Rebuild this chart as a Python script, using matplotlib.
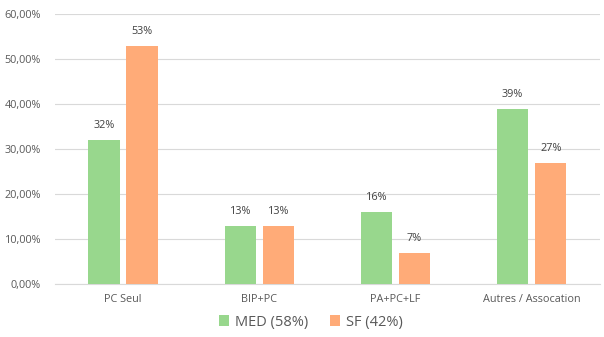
import matplotlib.pyplot as plt
import numpy as np

categories = ["PC Seul", "BIP+PC", "PA+PC+LF", "Autres / Assocation"]
med = [32, 13, 16, 39]
sf = [53, 13, 7, 27]
series_names = ["MED (58%)", "SF (42%)"]
y_ticks = [0, 10, 20, 30, 40, 50, 60]

green = "#98D78D"
orange = "#FFAB78"
grey = "#595959"

plt.rcParams['font.family'] = ['Open Sans', 'DejaVu Sans']

fig = plt.figure(figsize=(6.04, 3.37), dpi=100)
ax = fig.add_axes([0.091, 0.157, 0.902, 0.801])

x = np.arange(len(categories))
w = 0.23
off = 0.14
b1 = ax.bar(x - off, med, w, color=green, label=series_names[0], zorder=3)
b2 = ax.bar(x + off, sf, w, color=orange, label=series_names[1], zorder=3)

for bars, vals in ((b1, med), (b2, sf)):
    for rect, v in zip(bars, vals):
        ax.text(rect.get_x() + rect.get_width() / 2, v + 3.2, f"{v}%",
                ha='center', va='center', fontsize=7.8, color='#404040')

ax.set_xlim(-0.5, len(categories) - 0.5)
ax.set_ylim(0, 60)
ax.set_yticks(y_ticks)
ax.set_yticklabels([f"{t},00%" for t in y_ticks])
ax.set_xticks(x)
ax.set_xticklabels(categories)
ax.tick_params(axis='both', length=0, labelsize=7.8, colors=grey)
ax.tick_params(axis='y', pad=10)
ax.tick_params(axis='x', pad=7)
ax.grid(axis='y', color='#D9D9D9', linewidth=0.8, zorder=0)
for s in ('top', 'right', 'left'):
    ax.spines[s].set_visible(False)
ax.spines['bottom'].set_color('#D9D9D9')

ax.legend(loc='upper center', bbox_to_anchor=(0.47, -0.075), ncol=2, frameon=False,
          fontsize=10.5, handlelength=0.7, handleheight=0.7, handletextpad=0.4,
          columnspacing=1.5, labelcolor=grey, borderpad=0.2)

fig.savefig("out.png", dpi=100)
